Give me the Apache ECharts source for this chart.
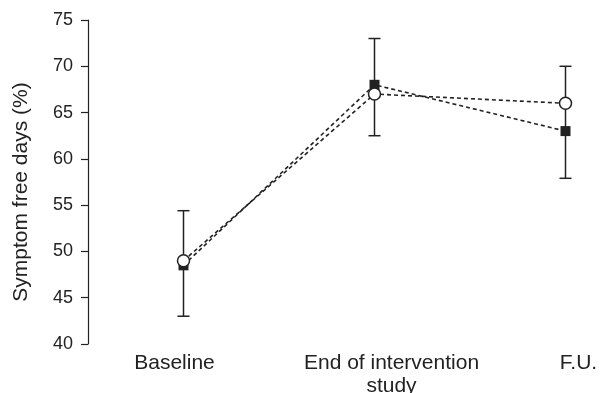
<!DOCTYPE html>
<html>
<head>
<meta charset="utf-8">
<script src="https://cdn.jsdelivr.net/npm/echarts@6/dist/echarts.min.js"></script>
<style>
html,body{margin:0;padding:0;background:#fff;}
#main{width:602px;height:393px;}
</style>
</head>
<body>
<div id="main"></div>
<script>
var categories = ['Baseline', 'End of intervention\nstudy', 'F.U.'];
var openCircleValues = [49, 67, 66];
var filledSquareValues = [48.5, 68, 63];
var errorLow = [43, 62.5, 57.9];
var errorHigh = [54.4, 73, 70];
var yTicks = [40, 45, 50, 55, 60, 65, 70, 75];

var ink = '#222';
var chart = echarts.init(document.getElementById('main'));

var errorData = categories.map(function (c, i) { return [i, errorLow[i], errorHigh[i]]; });

var labelStyles = ['a', 'b', 'c'];

chart.setOption({
  animation: false,
  grid: { left: 88, top: 20, width: 573, height: 324, containLabel: false, outerBoundsMode: 'none' },
  xAxis: {
    type: 'category',
    data: categories,
    boundaryGap: true,
    axisLine: { show: false },
    axisTick: { show: false },
    axisLabel: {
      margin: 8,
      interval: 0,
      color: ink,
      fontFamily: 'Liberation Sans, Arial, sans-serif',
      fontSize: 21,
      lineHeight: 23,
      formatter: function (val, idx) {
        var s = labelStyles[idx];
        return val.split('\n').map(function (l) { return '{' + s + '|' + l + '}'; }).join('\n');
      },
      rich: {
        a: { fontSize: 21, lineHeight: 23, color: ink, padding: [0, 18, 0, 0] },
        b: { fontSize: 21, lineHeight: 23, color: ink, padding: [0, 0, 0, 34] },
        c: { fontSize: 21, lineHeight: 23, color: ink, padding: [0, 0, 0, 26] }
      }
    },
    splitLine: { show: false }
  },
  yAxis: {
    type: 'value',
    min: yTicks[0],
    max: yTicks[yTicks.length - 1],
    interval: 5,
    name: 'Symptom free days (%)',
    nameLocation: 'middle',
    nameGap: 56,
    nameRotate: 90,
    nameTextStyle: { color: ink, fontSize: 21, fontFamily: 'Liberation Sans, Arial, sans-serif', padding: [0, 20, 0, 0] },
    axisLine: { show: true, lineStyle: { color: ink, width: 1.2 } },
    axisTick: { show: true, length: 7, lineStyle: { color: ink, width: 1.2 } },
    axisLabel: { color: ink, fontSize: 18, margin: 15, fontFamily: 'Liberation Sans, Arial, sans-serif' },
    splitLine: { show: false }
  },
  series: [
    {
      type: 'custom',
      data: errorData,
      z: 1,
      renderItem: function (params, api) {
        var x = api.value(0);
        var lo = api.coord([x, api.value(1)]);
        var hi = api.coord([x, api.value(2)]);
        var hw = 6;
        var st = { stroke: ink, lineWidth: 1.5 };
        return {
          type: 'group',
          children: [
            { type: 'line', shape: { x1: lo[0], y1: lo[1], x2: hi[0], y2: hi[1] }, style: st },
            { type: 'line', shape: { x1: lo[0] - hw, y1: lo[1], x2: lo[0] + hw, y2: lo[1] }, style: st },
            { type: 'line', shape: { x1: hi[0] - hw, y1: hi[1], x2: hi[0] + hw, y2: hi[1] }, style: st }
          ]
        };
      }
    },
    {
      type: 'line',
      data: filledSquareValues,
      z: 3,
      symbol: 'rect',
      symbolSize: 10,
      showAllSymbol: true,
      itemStyle: { color: ink, borderWidth: 0 },
      lineStyle: { color: ink, width: 1.6, type: [4, 3] }
    },
    {
      type: 'line',
      data: openCircleValues,
      z: 4,
      symbol: 'circle',
      symbolSize: 12,
      showAllSymbol: true,
      itemStyle: { color: '#fff', borderColor: ink, borderWidth: 1.5 },
      lineStyle: { color: ink, width: 1.6, type: [4, 3] }
    }
  ]
});
</script>
</body>
</html>
